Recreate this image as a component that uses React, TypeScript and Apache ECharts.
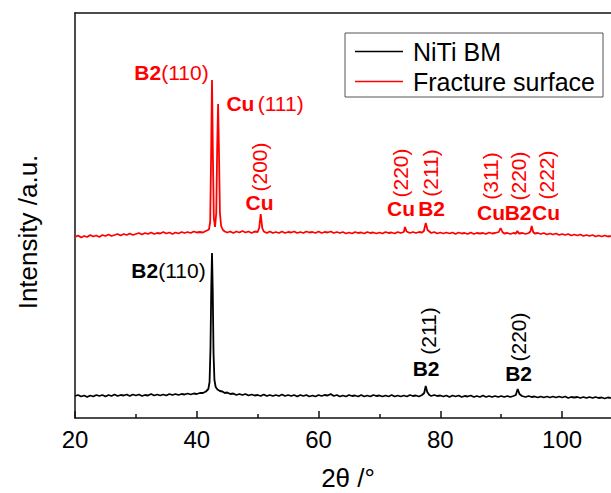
import React, { useEffect, useRef } from "react";
import * as echarts from "echarts";

// ---- Data (2θ in degrees, intensity in a.u.) ----
const fractureSurface: [number, number][] = [
  [20,181],[20.5,182.5],[21,180.5],[21.5,182],[22,181],[22.5,183],[23,181.5],[23.5,182.5],[24,181],[24.5,183],
  [25,182],[25.5,183.5],[26,182],[26.5,183],[27,184],[27.5,182.5],[28,184],[28.5,183],[29,184.5],[29.5,183],
  [30,184],[30.5,185],[31,183.5],[31.5,185],[32,184],[32.5,185.5],[33,184],[33.5,185],[34,184.5],[34.5,186],
  [35,184.5],[35.5,185.5],[36,184],[36.5,185.5],[37,184.5],[37.5,186],[38,185],[38.5,186],[39,185],[39.5,186.5],
  [40,185.5],[40.5,186],[41,185.5],[41.5,187],[42,188.5],[42.2,196],[42.35,260],[42.5,338],[42.65,262],[42.8,200],
  [43,191],[43.2,205],[43.35,270],[43.5,314],[43.65,265],[43.8,205],[44,192],[44.3,188],[44.6,186.5],[45,185.5],
  [45.5,186.5],[46,185],[46.5,186.5],[47,185.5],[47.5,187],[48,185.5],[48.5,186.5],[49,185],[49.5,186.5],[50,186],
  [50.25,190],[50.5,204],[50.75,190],[51,186.5],[51.5,185],[52,186.5],[52.5,185],[53,186],[53.5,185],[54,186.5],
  [54.5,185],[55,186],[55.5,185.5],[56,186.5],[56.5,185],[57,186],[57.5,185],[58,186.5],[58.5,185.5],[59,186],
  [59.5,185],[60,186.5],[60.5,185],[61,186],[61.5,185.5],[62,186.5],[62.5,185],[63,186],[63.5,185],[64,186],
  [64.5,184.5],[65,185.5],[65.5,184.5],[66,186],[66.5,185],[67,185.5],[67.5,184.5],[68,186],[68.5,185],[69,185.5],
  [69.5,184.5],[70,185.5],[70.5,184.5],[71,186],[71.5,185],[72,185.5],[72.5,184.5],[73,186],[73.5,185],[74,186],
  [74.2,191],[74.45,186.5],[75,185],[75.5,186],[76,185],[76.5,186],[77,185.5],[77.3,187],[77.6,195],[77.9,188],
  [78.3,186],[78.5,185],[79,186],[79.5,184.5],[80,185.5],[80.5,184.5],[81,185.5],[81.5,184.5],[82,185.5],[82.5,184],
  [83,185.5],[83.5,184.5],[84,185],[84.5,184],[85,185.5],[85.5,184],[86,185],[86.5,184.5],[87,185],[87.5,184],
  [88,185.5],[88.5,184.5],[89,185],[89.6,186],[89.9,190],[90.2,186],[90.5,184.5],[91,185],[91.5,184],[92,185],
  [92.4,184.5],[92.65,187],[92.9,184.5],[93.5,185],[94,184],[94.5,185],[94.8,186.5],[95,192],[95.25,186],[95.5,184.5],
  [96,185],[96.5,184],[97,185],[97.5,183.5],[98,184.5],[98.5,183.5],[99,184.5],[99.5,183],[100,184],[100.5,183],
  [101,184],[101.5,182.5],[102,183.5],[102.5,182.5],[103,183.5],[103.5,182],[104,183],[104.5,182],[105,183],[105.5,181.5],
  [106,182.5],[106.5,181.5],[107,182.5],[107.5,181.5],[108,182],
];

const nitiBM: [number, number][] = [
  [20,22],[20.5,23],[21,21.5],[21.5,22.5],[22,21],[22.5,22.5],[23,21.5],[23.5,23],[24,22],[24.5,23],
  [25,21.5],[25.5,23],[26,22],[26.5,23.5],[27,22],[27.5,23],[28,22.5],[28.5,23.5],[29,22],[29.5,23.5],
  [30,22.5],[30.5,23.5],[31,22],[31.5,23],[32,22.5],[32.5,24],[33,22.5],[33.5,23.5],[34,22.5],[34.5,23.5],
  [35,22.5],[35.5,24],[36,23],[36.5,24],[37,23],[37.5,24],[38,23.5],[38.5,24.5],[39,23.5],[39.5,24.5],
  [40,24],[40.5,25],[41,25],[41.5,26.5],[41.9,29],[42.1,36],[42.25,70],[42.38,130],[42.5,165],[42.62,128],
  [42.75,65],[42.9,38],[43.1,31],[43.4,28.5],[43.8,27],[44.2,26.5],[44.6,25],[45,25.5],[45.5,24],[46,24.5],
  [46.5,23],[47,24],[47.5,23],[48,24],[48.5,22.5],[49,23.5],[49.5,22.5],[50,23],[50.5,22],[51,23.5],
  [51.5,22],[52,23],[52.5,22],[53,23],[53.5,22],[54,23.5],[54.5,22],[55,23],[55.5,22],[56,23],
  [56.5,21.5],[57,23],[57.5,22],[58,23],[58.5,21.5],[59,22.5],[59.5,21.5],[60,23],[60.5,22],[61,23],
  [61.5,22.5],[62,24],[62.5,22],[63,23],[63.5,21.5],[64,22.5],[64.5,21.5],[65,23],[65.5,22],[66,22.5],
  [66.5,21.5],[67,23],[67.5,21.5],[68,22.5],[68.5,21.5],[69,23],[69.5,22],[70,22.5],[70.5,21.5],[71,22.5],
  [71.5,21.5],[72,23],[72.5,21.5],[73,22.5],[73.5,21.5],[74,22.5],[74.5,21.5],[75,23],[75.5,22],[76,22.5],
  [76.5,21.5],[77,23],[77.35,25],[77.6,32],[77.85,26],[78.2,23],[78.5,22],[79,23],[79.5,22],[80,22.5],
  [80.5,21.5],[81,22.5],[81.5,21],[82,22.5],[82.5,21.5],[83,22.5],[83.5,21],[84,22],[84.5,21.5],[85,22.5],
  [85.5,21],[86,22],[86.5,21],[87,22.5],[87.5,21],[88,22],[88.5,21],[89,22],[89.5,21],[90,22],
  [90.5,21],[91,22],[91.5,21],[92,22],[92.4,23],[92.7,29],[93,24],[93.4,22],[94,21],[94.5,22],
  [95,21],[95.5,21.5],[96,20.5],[96.5,21.5],[97,20.5],[97.5,21.5],[98,20.5],[98.5,21.5],[99,20.5],[99.5,21.5],
  [100,20.5],[100.5,21.5],[101,20],[101.5,21],[102,20.5],[102.5,21],[103,20],[103.5,21],[104,20],[104.5,21],
  [105,20],[105.5,21],[106,20],[106.5,20.5],[107,19.5],[107.5,20.5],[108,20],
];

// Peak annotations: [label, 2θ anchor, intensity anchor, rotated?]
const redNotes: [string, number, number, boolean][] = [
  ["{b|B2}{n|(110)}", 35.85, 346, false],
  ["{b|Cu} {n|(111)}", 51.21, 315, false],
  ["{n|(200)}", 50.23, 251, true],
  ["{b|Cu}", 50.31, 216, false],
  ["{n|(220)}", 73.39, 245, true],
  ["{n|(211)}", 78.32, 245, true],
  ["{b|Cu}", 73.55, 210, false],
  ["{b|B2}", 78.56, 210, false],
  ["{n|(311)}", 88.17, 242, true],
  ["{n|(220)}", 92.77, 242, true],
  ["{n|(222)}", 97.48, 243, true],
  ["{b|Cu}", 88.34, 206, false],
  ["{b|B2}", 92.77, 206, false],
  ["{b|Cu}", 97.37, 206, false],
];
const blackNotes: [string, number, number, boolean][] = [
  ["{b|B2}{n|(110)}", 35.36, 148, false],
  ["{n|(211)}", 77.99, 87, true],
  ["{b|B2}", 77.66, 50, false],
  ["{n|(220)}", 92.77, 81, true],
  ["{b|B2}", 92.85, 45, false],
];

const seriesNames = ["NiTi BM", "Fracture surface"];
const xTicks = [20, 40, 60, 80, 100];
const xTitle = "2θ /°";
const yTitle = "Intensity /a.u.";

const FONT = 'Arial, "Liberation Sans", Helvetica, sans-serif';

function noteSeries(notes: [string, number, number, boolean][], color: string) {
  return {
    type: "scatter",
    symbolSize: 0,
    silent: true,
    z: 5,
    itemStyle: { opacity: 1, color },
    data: notes.map(([t, x, y, rot]) => ({
      value: [x, y],
      label: {
        show: true,
        position: [0, 0],
        align: "center",
        verticalAlign: "middle",
        rotate: rot ? 90 : 0,
        formatter: t,
        color,
        opacity: 1,
        textBorderWidth: 0,
        textBorderColor: "transparent",
        rich: {
          b: { fontFamily: FONT, fontSize: 21, fontWeight: "bold", color, textBorderWidth: 0 },
          n: { fontFamily: FONT, fontSize: 21, fontWeight: "normal", color, textBorderWidth: 0 },
        },
      },
    })),
  };
}

export default function App() {
  const ref = useRef<HTMLDivElement>(null);
  useEffect(() => {
    if (!ref.current) return;
    const chart = echarts.init(ref.current, undefined, { renderer: "svg" });
    chart.setOption({
      animation: false,
      backgroundColor: "#fff",
      grid: { left: 75, width: 548, top: 13, height: 405, containLabel: false, outerBoundsMode: "none" },
      legend: {
        data: seriesNames,
        left: 345,
        top: 33,
        orient: "vertical",
        padding: [6, 8, 3, 10],
        itemGap: 5,
        itemWidth: 48,
        itemHeight: 1.5,
        icon: "rect",
        borderColor: "#555",
        borderWidth: 1,
        textStyle: { fontFamily: FONT, fontSize: 25, color: "#000", padding: [0, 0, 0, 5] },
      },
      xAxis: [
        {
          type: "value",
          min: 20,
          max: 110,
          interval: 20,
          axisLine: { show: true, lineStyle: { color: "#111", width: 1.5 } },
          axisTick: { show: true, inside: true, length: 7, lineStyle: { color: "#111", width: 1.5 } },
          minorTick: { show: true, splitNumber: 2, length: 4, lineStyle: { color: "#111", width: 1.5 } },
          axisLabel: {
            fontFamily: FONT,
            fontSize: 24,
            color: "#000",
            margin: 9,
            formatter: (v: number) => (xTicks.includes(v) ? String(v) : ""),
          },
          splitLine: { show: false },
        },
        {
          type: "value",
          position: "top",
          min: 20,
          max: 110,
          axisLine: { show: true, lineStyle: { color: "#111", width: 1.5 } },
          axisTick: { show: false },
          axisLabel: { show: false },
          splitLine: { show: false },
        },
      ],
      yAxis: {
        type: "value",
        min: 0,
        max: 405,
        axisLine: { show: true, lineStyle: { color: "#111", width: 1.5 } },
        axisTick: { show: false },
        axisLabel: { show: false },
        splitLine: { show: false },
      },
      graphic: [
        {
          type: "text",
          x: 28,
          y: 232,
          rotation: Math.PI / 2,
          style: {
            text: yTitle,
            font: `26px ${FONT}`,
            fill: "#000",
            align: "center",
            verticalAlign: "middle",
          },
        },
        {
          type: "text",
          x: 348,
          y: 478,
          style: {
            text: xTitle,
            font: `26px ${FONT}`,
            fill: "#000",
            align: "center",
            verticalAlign: "middle",
          },
        },
      ],
      series: [
        {
          name: seriesNames[0],
          type: "line",
          data: nitiBM,
          symbol: "none",
          lineStyle: { color: "#000", width: 1.8 },
          itemStyle: { color: "#000" },
          z: 3,
        },
        {
          name: seriesNames[1],
          type: "line",
          data: fractureSurface,
          symbol: "none",
          lineStyle: { color: "#ff0000", width: 1.8 },
          itemStyle: { color: "#ff0000" },
          z: 3,
        },
        noteSeries(redNotes, "#ff0000"),
        noteSeries(blackNotes, "#000"),
      ],
    });
    return () => chart.dispose();
  }, []);
  return (
    <div
      ref={ref}
      style={{ position: "fixed", left: 0, top: 0, width: 611, height: 493, background: "#fff" }}
    />
  );
}
